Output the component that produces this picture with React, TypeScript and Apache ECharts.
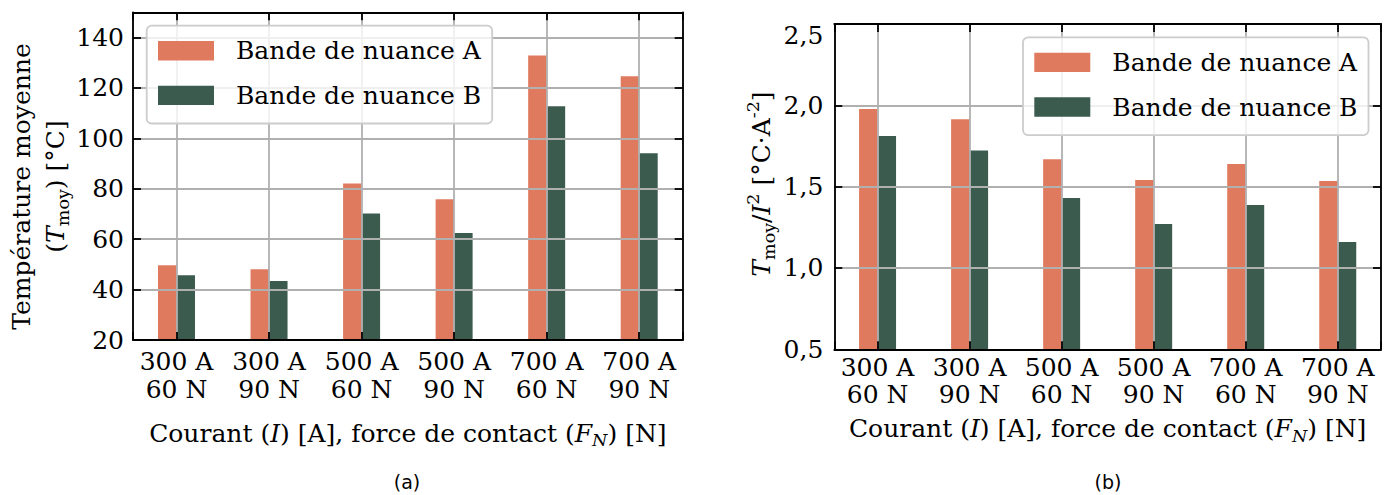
import React, { useEffect, useRef } from 'react';
import * as echarts from 'echarts';

const categories = ['300 A\n60 N', '300 A\n90 N', '500 A\n60 N', '500 A\n90 N', '700 A\n60 N', '700 A\n90 N'];
const seriesNames = ['Bande de nuance A', 'Bande de nuance B'];
const tempA = [49.7, 48.1, 82.1, 75.8, 132.9, 124.6];
const tempB = [45.7, 43.4, 70.2, 62.4, 112.7, 94.1];
const ratioA = [1.977, 1.915, 1.668, 1.541, 1.639, 1.534];
const ratioB = [1.811, 1.723, 1.43, 1.27, 1.387, 1.16];
const leftTicks = [20, 40, 60, 80, 100, 120, 140];
const rightTicks = [0.5, 1.0, 1.5, 2.0, 2.5];
const colors = ['#e07a5f', '#3b5b4f'];

const FONT = 'DejaVu Serif';
const FS = 25;
const BLACK = '#000000';
const GRIDC = '#b0b0b0';
const XMIN = -0.47;
const XMAX = 5.47;

const catFormatter = (v: number) => {
  const r = Math.round(v);
  if (Math.abs(v - r) > 1e-6 || r < 0 || r >= categories.length) return '';
  return categories[r];
};

const spine = { show: true, onZero: false, lineStyle: { color: BLACK, width: 1.8 } };
const tick = { show: true, inside: true, length: 8, lineStyle: { color: BLACK, width: 1.8 } };
const split = { show: true, lineStyle: { color: GRIDC, width: 1.8 } };

const xNameRich = {
  i: { fontFamily: FONT, fontSize: FS, fontStyle: 'italic', lineHeight: 30 },
  s: { fontFamily: FONT, fontSize: 17.5, fontStyle: 'italic', lineHeight: 16, padding: [14, 0, 0, 0] },
};

function makeXAxes(gridIndex: number, margin: number, lh: number, nameGap: number) {
  const common: any = { type: 'value', gridIndex, min: XMIN, max: XMAX, minInterval: 1, maxInterval: 1, z: 3 };
  return [
    {
      ...common,
      position: 'bottom',
      axisLine: spine,
      axisTick: tick,
      splitLine: split,
      axisLabel: { show: true, margin, formatter: catFormatter, fontFamily: FONT, fontSize: FS, color: BLACK, lineHeight: lh },
      name: 'Courant ({i|I}) [A], force de contact ({i|F}{s|N}) [N]',
      nameLocation: 'middle',
      nameGap,
      nameTextStyle: { fontFamily: FONT, fontSize: FS, color: BLACK, lineHeight: 30, rich: xNameRich },
    },
    {
      ...common,
      position: 'top',
      axisLine: spine,
      axisTick: tick,
      splitLine: { show: false },
      axisLabel: { show: false },
    },
  ];
}

function makeYAxes(gridIndex: number, min: number, max: number, interval: number, margin: number, fmt: (v: number) => string, rich?: any) {
  const common: any = { type: 'value', gridIndex, min, max, interval, z: 3 };
  return [
    {
      ...common,
      position: 'left',
      axisLine: spine,
      axisTick: tick,
      splitLine: split,
      axisLabel: { show: true, margin, formatter: fmt, fontFamily: FONT, fontSize: FS, color: BLACK, rich },
    },
    {
      ...common,
      position: 'right',
      axisLine: spine,
      axisTick: tick,
      splitLine: { show: false },
      axisLabel: { show: false },
    },
  ];
}

const leftFmt = (v: number) => (leftTicks.some((t) => Math.abs(t - v) < 1e-6) ? String(v) : '');
const rightFmt = (v: number) => {
  if (!rightTicks.some((t) => Math.abs(t - v) < 1e-6)) return '';
  const s = v.toFixed(1).replace('.', ',');
  return Math.abs(v - 2.5) < 1e-6 ? `{top|${s}}` : s;
};

const legendBase: any = {
  orient: 'vertical',
  itemWidth: 56,
  itemHeight: 19.4,
  itemGap: 19.6,
  icon: 'rect',
  padding: [12.6, 11, 15.6, 11.3],
  backgroundColor: 'rgba(255,255,255,0.8)',
  borderColor: '#cccccc',
  borderWidth: 1.8,
  borderRadius: 5,
  selectedMode: false,
  z: 6,
  textStyle: { fontFamily: FONT, fontSize: FS, color: BLACK, lineHeight: 19.4, padding: [0, 0, 0, 17] },
  data: seriesNames,
};

const titleRich = {
  i: { fontFamily: FONT, fontSize: FS, fontStyle: 'italic', lineHeight: 34 },
  s: { fontFamily: FONT, fontSize: 17.5, lineHeight: 18, padding: [16, 0, 0, 0] },
  p: { fontFamily: FONT, fontSize: 17.5, lineHeight: 18, padding: [0, 0, 16, 0] },
};

function bar(name: string, data: number[], color: string, axisIndex: number) {
  return {
    type: 'bar',
    name,
    xAxisIndex: axisIndex,
    yAxisIndex: axisIndex,
    data: data.map((v, i) => [i, v]),
    barWidth: 18.5,
    barGap: '0%',
    itemStyle: { color },
    z: 2,
  };
}

export default function App() {
  const ref = useRef<HTMLDivElement>(null);
  useEffect(() => {
    if (!ref.current) return;
    const chart = echarts.init(ref.current, undefined, { renderer: 'svg' });
    const option: any = {
      animation: false,
      backgroundColor: '#ffffff',
      grid: [
        { left: 133, top: 12.3, width: 549.7, height: 327.7, outerBoundsMode: 'none' },
        { left: 834.3, top: 24, width: 546.7, height: 325.3, outerBoundsMode: 'none' },
      ],
      xAxis: [...makeXAxes(0, 7, 28.3, 78), ...makeXAxes(1, 5, 26.7, 60)],
      yAxis: [
        ...makeYAxes(0, 20, 150, 20, 9, leftFmt),
        ...makeYAxes(1, 0.5, 2.5, 0.5, 11, rightFmt, { top: { fontFamily: FONT, fontSize: FS, padding: [22, 0, 0, 0] } }),
      ],
      legend: [
        { ...legendBase, left: 146.7, top: 25.7 },
        { ...legendBase, left: 1023, top: 37.3 },
      ],
      series: [
        bar(seriesNames[0], tempA, colors[0], 0),
        bar(seriesNames[1], tempB, colors[1], 0),
        { ...bar(seriesNames[0], ratioA, colors[0], 2), yAxisIndex: 2 },
        { ...bar(seriesNames[1], ratioB, colors[1], 2), yAxisIndex: 2 },
      ],
      graphic: [
        {
          type: 'text',
          x: 38,
          y: 186.5,
          rotation: Math.PI / 2,
          style: {
            text: 'Température moyenne\n({i|T}{s|moy}) [°C]',
            fontFamily: FONT,
            fontSize: FS,
            lineHeight: 34,
            fill: BLACK,
            align: 'center',
            verticalAlign: 'middle',
            rich: titleRich,
          },
        },
        {
          type: 'text',
          x: 761,
          y: 184,
          rotation: Math.PI / 2,
          style: {
            text: '{i|T}{s|moy}/{i|I}{p|2} [°C·A{p|-2}]',
            fontFamily: FONT,
            fontSize: FS,
            lineHeight: 34,
            fill: BLACK,
            align: 'center',
            verticalAlign: 'middle',
            rich: titleRich,
          },
        },
        {
          type: 'text',
          x: 407,
          y: 482,
          style: { text: '(a)', fontFamily: 'DejaVu Sans', fontSize: 19, fill: BLACK, align: 'center', verticalAlign: 'middle' },
        },
        {
          type: 'text',
          x: 1108,
          y: 482,
          style: { text: '(b)', fontFamily: 'DejaVu Sans', fontSize: 19, fill: BLACK, align: 'center', verticalAlign: 'middle' },
        },
      ],
    };
    chart.setOption(option);
    return () => chart.dispose();
  }, []);
  return <div ref={ref} style={{ position: 'absolute', left: 0, top: 0, width: 1385, height: 495 }} />;
}
